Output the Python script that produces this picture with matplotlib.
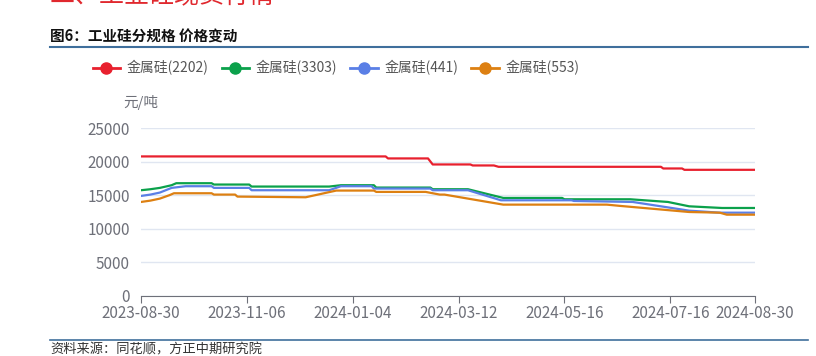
import matplotlib.pyplot as plt
from matplotlib.lines import Line2D

plt.rcParams['font.family'] = ['Noto Sans CJK SC', 'DejaVu Sans']

# 交易日序号(0 = 2023-08-30, 261 = 2024-08-30) 与价格(元/吨)
n_days = 262
tick_idx = [0, 45, 90, 135, 180, 225, 261]
tick_labels = ['2023-08-30', '2023-11-06', '2024-01-04', '2024-03-12',
               '2024-05-16', '2024-07-16', '2024-08-30']

names = ['金属硅(2202)', '金属硅(3303)', '金属硅(441)', '金属硅(553)']
colors = ['#e8202e', '#0ba14b', '#5a7fe6', '#dd8012']

idx_2202 = [0, 104, 105, 122, 124, 140, 141, 150, 152, 221, 222, 230, 231, 261]
val_2202 = [20800, 20800, 20500, 20500, 19600, 19600, 19450, 19450, 19250, 19250,
            19000, 19000, 18800, 18800]

idx_3303 = [0, 4, 8, 13, 15, 30, 31, 46, 47, 80, 85, 99, 100, 123, 124, 139, 154,
            179, 180, 208, 224, 233, 247, 261]
val_3303 = [15750, 15900, 16100, 16500, 16800, 16800, 16600, 16600, 16300, 16300,
            16500, 16500, 16150, 16150, 15900, 15900, 14600, 14600, 14400, 14400,
            14000, 13350, 13100, 13100]

idx_441 = [0, 4, 8, 13, 19, 30, 31, 46, 47, 80, 85, 98, 99, 123, 124, 139, 153,
           183, 184, 209, 233, 246, 261]
val_441 = [14900, 15100, 15400, 16100, 16350, 16350, 16100, 16100, 15750, 15750,
           16350, 16350, 16000, 16000, 15750, 15750, 14250, 14250, 14150, 14000,
           12700, 12400, 12400]

idx_553 = [0, 4, 8, 12, 14, 30, 31, 40, 41, 70, 83, 99, 100, 121, 127, 129, 154,
           198, 204, 233, 246, 249, 261]
val_553 = [14000, 14200, 14500, 15000, 15300, 15300, 15100, 15100, 14800, 14700,
           15700, 15700, 15500, 15500, 15100, 15100, 13600, 13600, 13400, 12500,
           12400, 12100, 12100]

series = [(idx_2202, val_2202), (idx_3303, val_3303), (idx_441, val_441), (idx_553, val_553)]

fig = plt.figure(figsize=(8.16, 3.56), dpi=100)
ax = fig.add_axes([141 / 816, 1 - 295.7 / 356, 614 / 816, 167.4 / 356])

for (xs, ys), c in zip(series, colors):
    ax.plot(xs, ys, color=c, lw=1.6, solid_joinstyle='round')

ax.set_xlim(0, n_days - 1)
ax.set_ylim(0, 25000)
ax.set_yticks(range(0, 25001, 5000))
ax.set_xticks(tick_idx)
ax.set_xticklabels(tick_labels)
ax.grid(axis='y', color='#e0e6f1', lw=1)
ax.set_axisbelow(True)
for s in ['top', 'right', 'left']:
    ax.spines[s].set_visible(False)
ax.spines['bottom'].set_color('#6e7079')
ax.tick_params(axis='y', length=0, pad=8, labelsize=11, labelcolor='#6e7079')
ax.tick_params(axis='x', length=5, color='#6e7079', pad=2, labelsize=11,
               labelcolor='#6e7079')
ax.text(0, 1.11, '元/吨', transform=ax.transAxes, ha='center', va='bottom',
        fontsize=10.5, color='#6e7079')

handles = [Line2D([], [], color=c, lw=2, marker='o', markersize=8) for c in colors]
fig.legend(handles, names, loc='center left', bbox_to_anchor=(80 / 816, 1 - 68 / 356),
           ncol=4, frameon=False, fontsize=10, handlelength=2.0, handletextpad=0.45,
           columnspacing=0.95, labelcolor='#555555')

# 页眉页脚
fig.text(50 / 816, 1 + 4 / 356, '二、工业硅现货行情', color='#e0282e', fontsize=18,
         ha='left', va='center')
fig.text(50 / 816, 1 - 37 / 356, '图6：工业硅分规格 价格变动', fontsize=10.5,
         fontweight='bold', ha='left', va='center', color='#111111')
fig.add_artist(Line2D([50 / 816, 808 / 816], [1 - 47 / 356] * 2, color='#3f6f9c', lw=1.5))
fig.add_artist(Line2D([50 / 816, 808 / 816], [1 - 340 / 356] * 2, color='#3f6f9c', lw=1.2))
fig.text(50 / 816, 1 - 350 / 356, '资料来源：同花顺，方正中期研究院', fontsize=9.5,
         ha='left', va='center', color='#333333')

fig.savefig('out.png', dpi=100)
